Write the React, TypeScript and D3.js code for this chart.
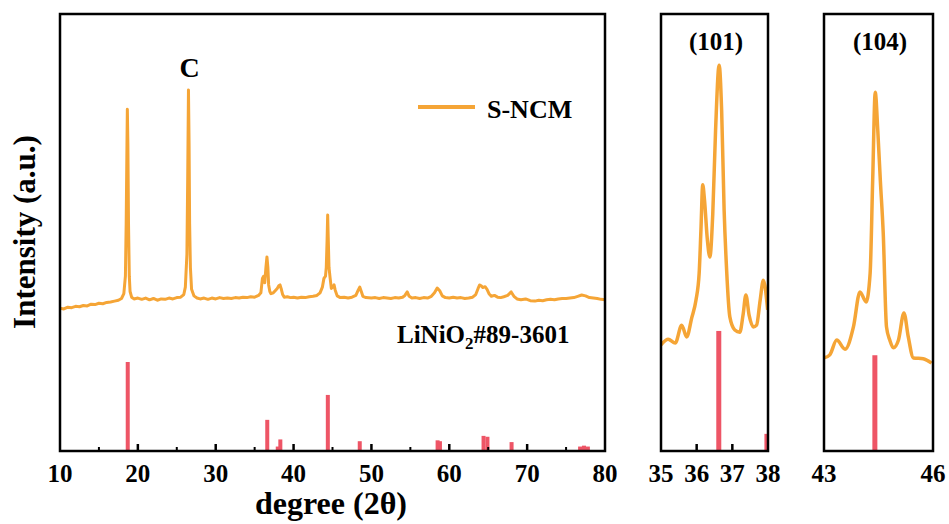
import * as d3 from "d3";

// S-NCM measured pattern, [2θ, intensity a.u.]
const mainPattern: [number, number][] = [
  [10.0, 327], [10.5, 325], [11.0, 329], [11.5, 328], [12.0, 331], [12.5, 330], [13.0, 333], [13.5, 332],
  [14.0, 336], [14.5, 335], [15.0, 338], [15.5, 337], [16.0, 340], [16.5, 341], [17.0, 343], [17.5, 345],
  [17.9, 349], [18.2, 360], [18.4, 400], [18.5, 520], [18.6, 700], [18.65, 782], [18.72, 700], [18.8, 520],
  [18.9, 400], [19.0, 365], [19.2, 352], [19.5, 348], [20.0, 350], [20.5, 347], [21.0, 350], [21.5, 346],
  [22.0, 349], [22.5, 345], [23.0, 348], [23.5, 347], [24.0, 350], [24.5, 348], [25.0, 351], [25.5, 352],
  [25.9, 358], [26.1, 375], [26.3, 450], [26.4, 620], [26.5, 826], [26.58, 700], [26.65, 520], [26.75, 420],
  [26.9, 370], [27.2, 355], [27.6, 350], [28.0, 348], [28.5, 350], [29.0, 347], [29.5, 350], [30.0, 348],
  [30.5, 351], [31.0, 349], [31.5, 350], [32.0, 349], [32.5, 351], [33.0, 350], [33.5, 352], [34.0, 351],
  [34.5, 353], [35.0, 352], [35.5, 356], [35.8, 362], [36.0, 395], [36.15, 400], [36.3, 385], [36.45, 420],
  [36.58, 444], [36.7, 420], [36.8, 380], [36.95, 365], [37.1, 360], [37.4, 362], [37.7, 368], [37.9, 372],
  [38.1, 378], [38.26, 380], [38.4, 372], [38.6, 358], [38.8, 352], [39.2, 353], [39.6, 351], [40.0, 352],
  [40.5, 350], [41.0, 352], [41.5, 351], [42.0, 353], [42.5, 354], [43.0, 356], [43.4, 362], [43.7, 375],
  [43.9, 395], [44.1, 400], [44.2, 420], [44.3, 480], [44.38, 540], [44.45, 490], [44.55, 420], [44.7, 395],
  [44.85, 372], [45.05, 375], [45.2, 380], [45.35, 368], [45.6, 355], [46.0, 351], [46.5, 352], [47.0, 350],
  [47.5, 352], [48.0, 356], [48.3, 368], [48.5, 375], [48.7, 365], [48.9, 354], [49.3, 351], [50.0, 350],
  [50.5, 351], [51.0, 349], [51.5, 351], [52.0, 350], [52.5, 349], [53.0, 351], [53.5, 350], [54.0, 352],
  [54.3, 356], [54.6, 364], [54.85, 354], [55.2, 350], [55.7, 351], [56.2, 349], [56.7, 351], [57.2, 350],
  [57.7, 354], [58.1, 362], [58.45, 373], [58.8, 366], [59.1, 355], [59.5, 351], [60.0, 350], [60.5, 352],
  [61.0, 350], [61.5, 351], [62.0, 349], [62.5, 350], [63.0, 352], [63.4, 358], [63.7, 372], [63.9, 380],
  [64.1, 378], [64.3, 374], [64.6, 376], [64.85, 370], [65.1, 360], [65.4, 354], [65.8, 356], [66.2, 352],
  [66.6, 351], [67.0, 353], [67.5, 356], [67.95, 364], [68.3, 354], [68.7, 348], [69.2, 346], [69.8, 348],
  [70.4, 344], [71.0, 343], [71.5, 345], [72.0, 344], [72.5, 346], [73.0, 347], [73.5, 346], [74.0, 348],
  [74.5, 349], [75.0, 349], [75.5, 350], [76.0, 351], [76.5, 354], [77.0, 357], [77.5, 355], [78.0, 351],
  [78.5, 350], [79.0, 349], [79.5, 347], [80.0, 346],
];

// (101) zoom
const zoom101: [number, number][] = [
  [35.0, 243], [35.2, 256], [35.4, 247], [35.58, 288], [35.72, 261], [35.86, 304], [35.98, 345], [36.07, 407],
  [36.12, 506], [36.17, 609], [36.22, 574], [36.3, 483], [36.37, 444], [36.45, 540], [36.53, 734], [36.63, 883],
  [36.7, 780], [36.77, 551], [36.84, 414], [36.93, 307], [37.07, 277], [37.21, 272], [37.3, 311], [37.38, 357],
  [37.47, 311], [37.59, 284], [37.68, 288], [37.78, 345], [37.87, 391], [37.99, 323],
];

// (104) zoom
const zoom104: [number, number][] = [
  [43.0, 213], [43.16, 220], [43.35, 254], [43.58, 233], [43.81, 284], [43.99, 364], [44.16, 341], [44.27, 407],
  [44.34, 620], [44.41, 821], [44.48, 734], [44.55, 620], [44.63, 499], [44.72, 284], [44.81, 254], [44.91, 236],
  [45.05, 254], [45.2, 316], [45.32, 261], [45.46, 213], [45.73, 211], [45.96, 201],
];

// LiNiO2 #89-3601 reference lines, [2θ, relative intensity]
const refLines: [number, number][] = [
  [18.7, 100], [36.62, 35], [37.97, 5], [38.3, 13], [44.4, 63], [48.5, 11], [58.5, 12], [58.8, 11],
  [64.4, 17], [64.9, 16], [68.0, 10], [76.8, 5], [77.3, 6], [77.8, 5],
];

const mainTicks = [10, 20, 30, 40, 50, 60, 70, 80];
const mainMinor = [15, 25, 35, 45, 55, 65, 75];
const ticks101 = [35, 36, 37, 38];
const ticks104 = [43, 46];

const ORANGE = "#F5A536";
const RED = "#EE5566";
const FONT = "'Liberation Serif', 'Times New Roman', serif";

const W = 949;
const H = 524;
const top = 14;
const bottom = 451;

type PanelProps = {
  id: string;
  x0: number;
  x1: number;
  domain: [number, number];
  data: [number, number][];
  barRange: number; // px for 100 units
  labels: number[];
  major: number[];
  minor: number[];
  barW: number;
  smooth?: boolean;
  lineW: number;
};

function Panel({ id, x0, x1, domain, data, barRange, labels, major, minor, barW, smooth, lineW }: PanelProps) {
  const x = d3.scaleLinear().domain(domain).range([x0, x1]);
  const y = d3.scaleLinear().domain([0, 1000]).range([bottom, top]);
  const yb = d3.scaleLinear().domain([0, 100]).range([bottom, bottom - barRange]);
  const line = d3
    .line<[number, number]>()
    .x((d) => x(d[0]))
    .y((d) => y(d[1]))
    .curve(smooth ? d3.curveMonotoneX : d3.curveLinear);
  const bars = refLines.filter((d) => d[0] >= domain[0] - 0.1 && d[0] <= domain[1] + 0.1);
  return (
    <g>
      <clipPath id={id}>
        <rect x={x0} y={top} width={x1 - x0} height={bottom - top} />
      </clipPath>
      <g clipPath={`url(#${id})`}>
        <path d={line(data) || ""} fill="none" stroke={ORANGE} strokeWidth={lineW} strokeLinejoin="round" />
        {bars.map((d) => (
          <rect key={d[0]} x={x(d[0]) - barW / 2} y={yb(d[1])} width={barW} height={yb(0) - yb(d[1])} fill={RED} />
        ))}
      </g>
      {major.map((t) => (
        <line key={"M" + t} x1={x(t)} x2={x(t)} y1={bottom} y2={bottom - 7} stroke="#000" strokeWidth={2.5} />
      ))}
      {minor.map((t) => (
        <line key={"m" + t} x1={x(t)} x2={x(t)} y1={bottom} y2={bottom - 4} stroke="#000" strokeWidth={2} />
      ))}
      <rect x={x0} y={top} width={x1 - x0} height={bottom - top} fill="none" stroke="#000" strokeWidth={2.5} />
      {labels.map((t) => (
        <text key={"l" + t} x={x(t)} y={482} textAnchor="middle" fontSize={25} fontWeight="bold" fontFamily={FONT}>
          {t}
        </text>
      ))}
    </g>
  );
}

export default function App() {
  return (
    <svg width={W} height={H} style={{ position: "absolute", left: 0, top: 0, background: "#fff" }}>
      <Panel
        id="c-main"
        x0={60}
        x1={605}
        domain={[10, 80]}
        data={mainPattern}
        barRange={89}
        labels={mainTicks}
        major={[20, 30, 40, 50, 60, 70]}
        minor={mainMinor}
        barW={4}
        lineW={3}
      />
      <Panel
        id="c-101"
        x0={661}
        x1={768}
        domain={[35, 38]}
        data={zoom101}
        barRange={343}
        labels={ticks101}
        major={[36, 37]}
        minor={[]}
        barW={5}
        smooth
        lineW={3.5}
      />
      <Panel
        id="c-104"
        x0={824}
        x1={933}
        domain={[43, 46]}
        data={zoom104}
        barRange={152}
        labels={ticks104}
        major={[]}
        minor={[]}
        barW={5}
        smooth
        lineW={3.5}
      />
      <g fontFamily={FONT} fontWeight="bold" fill="#000">
        <text x={189.5} y={77} textAnchor="middle" fontSize={28}>C</text>
        <line x1={418} x2={475} y1={107} y2={107} stroke={ORANGE} strokeWidth={4} />
        <text x={487} y={118} fontSize={26}>S-NCM</text>
        <text x={397} y={343} fontSize={25}>
          LiNiO<tspan dy={6} fontSize={17}>2</tspan><tspan dy={-6}>#89-3601</tspan>
        </text>
        <text x={716} y={50} textAnchor="middle" fontSize={25}>(101)</text>
        <text x={880} y={50} textAnchor="middle" fontSize={25}>(104)</text>
        <text x={331} y={514} textAnchor="middle" fontSize={32}>degree (2θ)</text>
        <text transform="translate(35,232) rotate(-90)" textAnchor="middle" fontSize={31}>Intensity (a.u.)</text>
      </g>
    </svg>
  );
}
